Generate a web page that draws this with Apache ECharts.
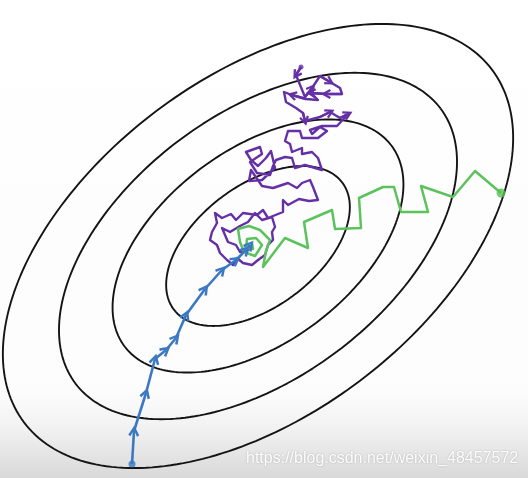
<!DOCTYPE html>
<html>
<head>
<meta charset="utf-8">
<script src="https://cdn.jsdelivr.net/npm/echarts@6/dist/echarts.min.js"></script>
<style>
  html, body { margin: 0; padding: 0; background: #fff; }
  #main { width: 528px; height: 478px; }
</style>
</head>
<body>
<div id="main"></div>
<script type="text/javascript">

// contour ellipses: common centre, tilt and outer semi-axes, plus the scale of each ring
var contourCenter = [258, 246];
var contourTilt = 37;          // degrees, major axis up to the right
var contourAxes = [293, 169];  // outer ring semi-axes
var contourScales = [1, 0.78, 0.57, 0.36];

// blue: batch gradient descent steps
var bluePath = [[132,464],[134,431],[146,393],[155,359],[166,350],[176,338],[186,315],[205,289],[222,270],[236,260],[246,250],[250,245]];

// purple: stochastic gradient descent (random walk)
var purplePath = [
  [301,67],[296,75],[305,97],[312,88],[320,76],[330,82],[340,88],[342,94],[326,94],[311,93],[318,100],[306,99],
  [292,95],[284,92],[286,102],[296,108],[303,113],[305,121],[320,117],[330,112],[340,118],[348,114],[337,126],
  [322,126],[310,130],[312,134],[320,127],[327,131],[318,138],[302,138],[300,131],[288,131],[285,141],
  [290,144],[292,152],[302,148],[302,154],[312,152],[318,158],[322,170],[315,168],[305,165],[295,168],[292,158],
  [285,157],[276,160],[273,166],[270,175],[257,173],[250,162],[262,154],[260,147],[246,152],[251,160],[258,166],
  [266,158],[271,151],[275,168],[262,180],[249,181],[251,170],[262,186],[273,188],[288,183],[297,188],[302,183],
  [310,180],[313,187],[318,200],[309,201],[299,199],[288,205],[283,200],[283,212],[268,218],[263,210],[257,215],
  [243,213],[236,220],[231,214],[222,218],[215,213],[217,223],[212,232],[210,240],[217,245],[220,253],[227,260],
  [233,265],[237,258],[243,263],[252,265],[258,260],[265,255],[268,245],[273,240],[272,232],[275,227],[272,217],
  [262,220],[255,213],[248,222],[240,226],[230,232],[222,228],[228,242],[236,245],[240,252],[248,250],[252,245]
];
// steps of the purple walk that carry an arrowhead
var purpleArrowSteps = [1, 3, 5, 8, 9, 12, 17, 19, 21];

// green: mini-batch gradient descent
var greenPath = [
  [501,193],[475,171],[453,197],[421,186],[428,212],[401,212],[394,187],[383,187],[359,198],[361,228],[335,229],
  [332,210],[304,222],[308,248],[285,238],[263,267],[266,251],[270,240],[260,230],[249,226],[238,229],[240,242],
  [244,252],[255,256],[262,245],[256,238],[247,239],[246,248],[253,249],[252,243]
];

var startDots = [
  { value: [132,464], color: '#3b78c2', size: 7 },
  { value: [501,193], color: '#58c058', size: 9 },
  { value: [301,67], color: '#6530a6', size: 5 }
];

var chevron = 'path://M5,0L10,8.4L8,9.6L5,4L2,9.6L0,8.4Z';

function ringPoints(scale) {
  var pts = [];
  var phi = contourTilt * Math.PI / 180;
  var a = contourAxes[0] * scale, b = contourAxes[1] * scale;
  for (var i = 0; i <= 240; i++) {
    var t = i / 240 * 2 * Math.PI;
    var x = contourCenter[0] + a * Math.cos(t) * Math.cos(phi) - b * Math.sin(t) * Math.sin(phi);
    var y = contourCenter[1] - (a * Math.cos(t) * Math.sin(phi) + b * Math.sin(t) * Math.cos(phi));
    pts.push([x, y]);
  }
  return pts;
}

function segments(path) {
  var out = [];
  for (var i = 0; i < path.length - 1; i++) {
    out.push({ coords: [path[i], path[i + 1]] });
  }
  return out;
}

var chart = echarts.init(document.getElementById('main'));

var series = [];
contourScales.forEach(function (s) {
  series.push({
    type: 'line',
    data: ringPoints(s),
    showSymbol: false,
    silent: true,
    z: 1,
    lineStyle: { color: '#141414', width: 1.9 }
  });
});

series.push({
  type: 'line',
  name: 'purple',
  data: purplePath,
  showSymbol: false,
  z: 3,
  lineStyle: { color: '#6530a6', width: 2.4, join: 'round' }
});
series.push({
  type: 'lines',
  coordinateSystem: 'cartesian2d',
  data: purpleArrowSteps.map(function (i) {
    return { coords: [purplePath[i - 1], purplePath[i]] };
  }),
  symbol: ['none', chevron],
  symbolSize: [11, 10],
  z: 3,
  lineStyle: { color: '#6530a6', width: 2.4, opacity: 1 }
});
series.push({
  type: 'line',
  name: 'green',
  data: greenPath,
  showSymbol: false,
  z: 4,
  lineStyle: { color: '#5cc25c', width: 2.5, join: 'round' }
});
series.push({
  type: 'lines',
  coordinateSystem: 'cartesian2d',
  data: segments(bluePath),
  symbol: ['none', chevron],
  symbolSize: [12, 11],
  z: 5,
  lineStyle: { color: '#3b78c2', width: 2.6, opacity: 1 }
});
series.push({
  type: 'scatter',
  data: startDots.map(function (d) {
    return { value: d.value, symbolSize: d.size, itemStyle: { color: d.color } };
  }),
  z: 6
});

var option = {
  animation: false,
  backgroundColor: {
    type: 'linear', x: 0, y: 0, x2: 0, y2: 1,
    colorStops: [
      { offset: 0, color: '#ffffff' },
      { offset: 0.82, color: '#fcfcfc' },
      { offset: 0.9, color: '#f1f1f1' },
      { offset: 1, color: '#d9d9d9' }
    ]
  },
  grid: { left: 0, right: 0, top: 0, bottom: 0 },
  xAxis: { type: 'value', min: 0, max: 528, show: false },
  yAxis: { type: 'value', min: 0, max: 478, inverse: true, show: false },
  graphic: [{
    type: 'text',
    left: 246,
    top: 451,
    silent: true,
    style: {
      text: 'https://blog.csdn.net/weixin_48457572',
      font: '16px "Liberation Sans", Arial, sans-serif',
      fill: 'rgba(255,255,255,0.95)',
      textShadowColor: 'rgba(0,0,0,0.25)',
      textShadowBlur: 2
    },
    z: 10
  }],
  series: series
};

chart.setOption(option);

</script>
</body>
</html>
